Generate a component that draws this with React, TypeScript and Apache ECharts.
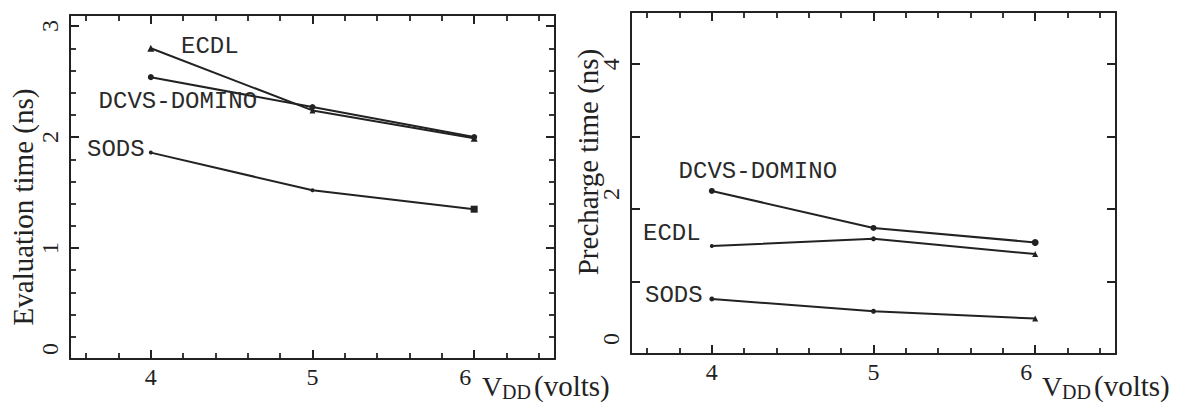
import React, { useEffect, useRef } from 'react';
import * as echarts from 'echarts';

// ---- data ----
const vdd = [4, 5, 6];
const evalECDL = [2.8, 2.24, 1.99];
const evalDCVS = [2.54, 2.27, 2.0];
const evalSODS = [1.86, 1.52, 1.35];
const preDCVS = [2.25, 1.74, 1.54];
const preECDL = [1.49, 1.59, 1.38];
const preSODS = [0.76, 0.59, 0.49];
const xTickLabels = ['4', '5', '6'];
const evalYTickLabels = ['0', '1', '2', '3'];
const preYTickLabels = ['0', '2', '4'];

const INK = '#222';
const SERIF = '"Liberation Serif", "Times New Roman", serif';
const MONO = '"Liberation Mono", "Courier New", monospace';

function seriesData(ys: number[], label: string, offset: [number, number], symbols: string[], sizes: number[]) {
  return vdd.map((x, i) => {
    const item: any = { value: [x, ys[i]], symbol: symbols[i], symbolSize: sizes[i] };
    if (i === 0) {
      item.label = {
        show: true,
        formatter: label,
        position: 'inside',
        offset,
        fontFamily: MONO,
        fontSize: 24,
        color: '#2a2a2a',
      };
    }
    return item;
  });
}

const tickStyle = { show: true, inside: true, length: 9, lineStyle: { color: INK, width: 2 } };
const minorStyle = { splitNumber: 5, length: 6, lineStyle: { color: INK, width: 1.8 } };

function xAxes(gridIndex: number) {
  const common: any = {
    type: 'value',
    gridIndex,
    min: 3.5,
    max: 6.5,
    splitNumber: 3,
    splitLine: { show: false },
    axisLine: { show: true, onZero: false, lineStyle: { color: INK, width: 2 } },
    axisTick: tickStyle,
    minorTick: { show: true, ...minorStyle },
  };
  return [
    {
      ...common,
      position: 'bottom',
      axisLabel: {
        show: true,
        margin: 6,
        fontFamily: SERIF,
        fontSize: 24,
        color: INK,
        formatter: (v: number) => {
          const s = xTickLabels.find((t) => Math.abs(Number(t) - v) < 1e-6);
          if (!s) return '';
          return s === '6' ? `{l|${s}}` : s;
        },
        rich: { l: { padding: [0, 18, 0, 0], fontFamily: SERIF, fontSize: 24, color: INK } },
      },
    },
    { ...common, position: 'top', axisLabel: { show: false } },
  ];
}

function yAxes(gridIndex: number, max: number, labels: string[], minor: boolean, shifted: string[], shift: number) {
  const common: any = {
    type: 'value',
    gridIndex,
    min: 0,
    max,
    interval: 1,
    splitLine: { show: false },
    axisLine: { show: true, onZero: false, lineStyle: { color: INK, width: 2 } },
    axisTick: tickStyle,
    minorTick: { show: minor, ...minorStyle },
  };
  return [
    {
      ...common,
      position: 'left',
      axisLabel: {
        show: true,
        rotate: 90,
        margin: 8,
        fontFamily: SERIF,
        fontSize: 24,
        color: INK,
        formatter: (v: number) => {
          const s = labels.find((t) => Math.abs(Number(t) - v) < 1e-6);
          if (!s) return '';
          return shifted.includes(s) ? `{u|${s}}` : s;
        },
        rich: { u: { padding: [0, 0, 0, shift * 2], fontFamily: SERIF, fontSize: 24, color: INK } },
      },
    },
    { ...common, position: 'right', axisLabel: { show: false } },
  ];
}

function line(name: string, xi: number, yi: number, data: any[]) {
  return {
    name,
    type: 'line',
    xAxisIndex: xi,
    yAxisIndex: yi,
    data,
    lineStyle: { color: INK, width: 2 },
    itemStyle: { color: INK },
    label: { show: false },
  };
}

function vddTitle(x: number) {
  return [
    { type: 'text', x, y: 386, style: { text: 'V', font: `28px ${SERIF}`, fill: INK, align: 'left', verticalAlign: 'middle' } },
    { type: 'text', x: x + 20, y: 392, style: { text: 'DD', font: `20px ${SERIF}`, fill: INK, align: 'left', verticalAlign: 'middle' } },
    { type: 'text', x: x + 52, y: 386, style: { text: '(volts)', font: `29px ${SERIF}`, fill: INK, align: 'left', verticalAlign: 'middle' } },
  ];
}

export default function App() {
  const ref = useRef<HTMLDivElement>(null);
  useEffect(() => {
    if (!ref.current) return;
    const chart = echarts.init(ref.current, undefined, { renderer: 'svg' });
    const option: any = {
      animation: false,
      backgroundColor: '#fff',
      grid: [
        { left: 70, top: 15, width: 485, height: 344 },
        { left: 631, top: 12, width: 485, height: 342 },
      ],
      xAxis: [...xAxes(0), ...xAxes(1)],
      yAxis: [
        ...yAxes(0, 3.1, evalYTickLabels, true, ['0'], 10),
        ...yAxes(1, 4.72, preYTickLabels, false, ['0', '2'], 15),
      ],
      series: [
        line('ECDL', 0, 0, seriesData(evalECDL, 'ECDL', [59, -2], ['triangle', 'triangle', 'triangle'], [7, 6, 7])),
        line('DCVS-DOMINO', 0, 0, seriesData(evalDCVS, 'DCVS-DOMINO', [27, 24], ['circle', 'circle', 'circle'], [6, 6, 6])),
        line('SODS', 0, 0, seriesData(evalSODS, 'SODS', [-35, -3], ['circle', 'circle', 'rect'], [4, 4, 7])),
        line('DCVS-DOMINO', 2, 2, seriesData(preDCVS, 'DCVS-DOMINO', [46, -19], ['circle', 'circle', 'circle'], [6, 6, 7])),
        line('ECDL', 2, 2, seriesData(preECDL, 'ECDL', [-40, -13], ['circle', 'circle', 'triangle'], [4, 5, 6])),
        line('SODS', 2, 2, seriesData(preSODS, 'SODS', [-38, -3], ['circle', 'circle', 'triangle'], [5, 5, 6])),
      ],
      graphic: [
        {
          type: 'text',
          x: 23,
          y: 207,
          rotation: Math.PI / 2,
          style: { text: 'Evaluation time (ns)', font: `29px ${SERIF}`, fill: INK, align: 'center', verticalAlign: 'middle' },
        },
        {
          type: 'text',
          x: 588,
          y: 162,
          rotation: Math.PI / 2,
          style: { text: 'Precharge time (ns)', font: `29px ${SERIF}`, fill: INK, align: 'center', verticalAlign: 'middle' },
        },
        ...vddTitle(482),
        ...vddTitle(1042),
      ],
    };
    chart.setOption(option);
    return () => chart.dispose();
  }, []);
  return <div ref={ref} style={{ position: 'absolute', left: 0, top: 0, width: 1184, height: 405 }} />;
}
